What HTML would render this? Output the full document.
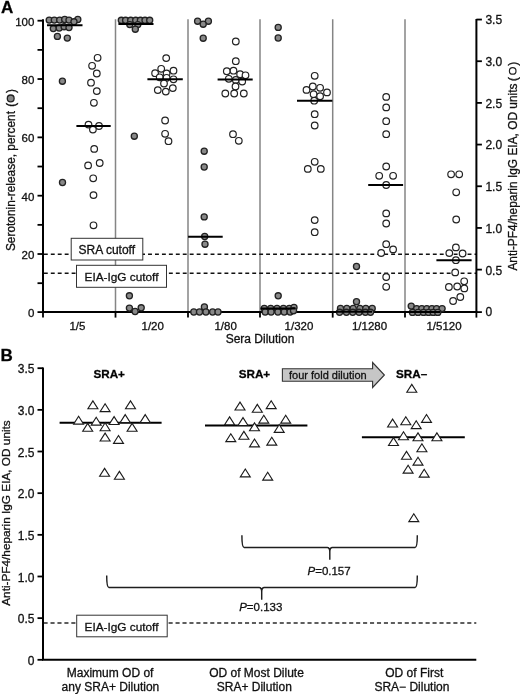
<!DOCTYPE html>
<html><head><meta charset="utf-8"><style>
html,body{margin:0;padding:0;background:#fff;}
svg{display:block;font-family:"Liberation Sans", sans-serif;will-change:transform;}
text{stroke:#111;stroke-width:0.3px;}
</style></head><body>
<svg width="520" height="694" viewBox="0 0 520 694">
<rect width="520" height="694" fill="#fff"/>
<line x1="115.5" y1="19.3" x2="115.5" y2="312.1" stroke="#858585" stroke-width="1.5"/>
<line x1="188.0" y1="19.3" x2="188.0" y2="312.1" stroke="#858585" stroke-width="1.5"/>
<line x1="260.0" y1="19.3" x2="260.0" y2="312.1" stroke="#858585" stroke-width="1.5"/>
<line x1="332.7" y1="19.3" x2="332.7" y2="312.1" stroke="#858585" stroke-width="1.5"/>
<line x1="405.0" y1="19.3" x2="405.0" y2="312.1" stroke="#858585" stroke-width="1.5"/>
<line x1="43.0" y1="254.3" x2="476.4" y2="254.3" stroke="#111" stroke-width="1.5" stroke-dasharray="3.9 3.046" stroke-dashoffset="6.09"/>
<line x1="43.0" y1="273.2" x2="476.4" y2="273.2" stroke="#111" stroke-width="1.5" stroke-dasharray="3.9 3.046" stroke-dashoffset="6.09"/>
<rect x="71.2" y="238.3" width="71.6" height="21.7" fill="#fff" stroke="#333" stroke-width="1"/>
<text x="106.8" y="253.8" font-size="12" text-anchor="middle" fill="#111">SRA cutoff</text>
<rect x="76.5" y="265.3" width="90" height="22" fill="#fff" stroke="#333" stroke-width="1"/>
<text x="121.5" y="280.6" font-size="11.8" text-anchor="middle" fill="#111">EIA-IgG cutoff</text>
<line x1="43.0" y1="19.3" x2="43.0" y2="312.1" stroke="#000" stroke-width="2"/>
<line x1="476.4" y1="19.0" x2="476.4" y2="312.1" stroke="#000" stroke-width="2"/>
<line x1="42.0" y1="312.1" x2="477.4" y2="312.1" stroke="#000" stroke-width="2"/>
<line x1="37.5" y1="312.10" x2="43.0" y2="312.10" stroke="#000" stroke-width="1.8"/>
<text x="34.4" y="317.20" font-size="11.5" text-anchor="end" fill="#111">0</text>
<line x1="37.5" y1="283.19" x2="43.0" y2="283.19" stroke="#000" stroke-width="1.8"/>
<line x1="37.5" y1="254.02" x2="43.0" y2="254.02" stroke="#000" stroke-width="1.8"/>
<text x="34.4" y="259.12" font-size="11.5" text-anchor="end" fill="#111">20</text>
<line x1="37.5" y1="224.86" x2="43.0" y2="224.86" stroke="#000" stroke-width="1.8"/>
<line x1="37.5" y1="195.69" x2="43.0" y2="195.69" stroke="#000" stroke-width="1.8"/>
<text x="34.4" y="200.79" font-size="11.5" text-anchor="end" fill="#111">40</text>
<line x1="37.5" y1="166.53" x2="43.0" y2="166.53" stroke="#000" stroke-width="1.8"/>
<line x1="37.5" y1="137.36" x2="43.0" y2="137.36" stroke="#000" stroke-width="1.8"/>
<text x="34.4" y="142.46" font-size="11.5" text-anchor="end" fill="#111">60</text>
<line x1="37.5" y1="108.20" x2="43.0" y2="108.20" stroke="#000" stroke-width="1.8"/>
<line x1="37.5" y1="79.03" x2="43.0" y2="79.03" stroke="#000" stroke-width="1.8"/>
<text x="34.4" y="84.13" font-size="11.5" text-anchor="end" fill="#111">80</text>
<line x1="37.5" y1="49.87" x2="43.0" y2="49.87" stroke="#000" stroke-width="1.8"/>
<line x1="37.5" y1="20.70" x2="43.0" y2="20.70" stroke="#000" stroke-width="1.8"/>
<text x="34.4" y="25.80" font-size="11.5" text-anchor="end" fill="#111">100</text>
<line x1="476.4" y1="312.10" x2="481.9" y2="312.10" stroke="#000" stroke-width="1.8"/>
<text x="485.4" y="316.20" font-size="12" fill="#111">0</text>
<line x1="476.4" y1="269.62" x2="481.9" y2="269.62" stroke="#000" stroke-width="1.8"/>
<text x="485.4" y="274.52" font-size="12" fill="#111">0.5</text>
<line x1="476.4" y1="227.94" x2="481.9" y2="227.94" stroke="#000" stroke-width="1.8"/>
<text x="485.4" y="232.84" font-size="12" fill="#111">1.0</text>
<line x1="476.4" y1="186.26" x2="481.9" y2="186.26" stroke="#000" stroke-width="1.8"/>
<text x="485.4" y="191.16" font-size="12" fill="#111">1.5</text>
<line x1="476.4" y1="144.58" x2="481.9" y2="144.58" stroke="#000" stroke-width="1.8"/>
<text x="485.4" y="149.48" font-size="12" fill="#111">2.0</text>
<line x1="476.4" y1="102.90" x2="481.9" y2="102.90" stroke="#000" stroke-width="1.8"/>
<text x="485.4" y="107.80" font-size="12" fill="#111">2.5</text>
<line x1="476.4" y1="61.22" x2="481.9" y2="61.22" stroke="#000" stroke-width="1.8"/>
<text x="485.4" y="66.12" font-size="12" fill="#111">3.0</text>
<line x1="476.4" y1="19.54" x2="481.9" y2="19.54" stroke="#000" stroke-width="1.8"/>
<text x="485.4" y="24.44" font-size="12" fill="#111">3.5</text>
<line x1="43.0" y1="312.1" x2="43.0" y2="317.6" stroke="#000" stroke-width="1.8"/>
<line x1="115.5" y1="312.1" x2="115.5" y2="317.6" stroke="#000" stroke-width="1.8"/>
<line x1="188.0" y1="312.1" x2="188.0" y2="317.6" stroke="#000" stroke-width="1.8"/>
<line x1="260.0" y1="312.1" x2="260.0" y2="317.6" stroke="#000" stroke-width="1.8"/>
<line x1="332.7" y1="312.1" x2="332.7" y2="317.6" stroke="#000" stroke-width="1.8"/>
<line x1="405.0" y1="312.1" x2="405.0" y2="317.6" stroke="#000" stroke-width="1.8"/>
<line x1="476.4" y1="312.1" x2="476.4" y2="317.6" stroke="#000" stroke-width="1.8"/>
<circle cx="97.6" cy="57.8" r="3.3" fill="#fff" stroke="#222" stroke-width="1.2"/>
<circle cx="92.1" cy="65.8" r="3.3" fill="#fff" stroke="#222" stroke-width="1.2"/>
<circle cx="96.8" cy="73.5" r="3.3" fill="#fff" stroke="#222" stroke-width="1.2"/>
<circle cx="91" cy="82.7" r="3.3" fill="#fff" stroke="#222" stroke-width="1.2"/>
<circle cx="96.8" cy="91.1" r="3.3" fill="#fff" stroke="#222" stroke-width="1.2"/>
<circle cx="93.9" cy="102.8" r="3.3" fill="#fff" stroke="#222" stroke-width="1.2"/>
<circle cx="88.5" cy="124.6" r="3.3" fill="#fff" stroke="#222" stroke-width="1.2"/>
<circle cx="99" cy="126" r="3.3" fill="#fff" stroke="#222" stroke-width="1.2"/>
<circle cx="92.9" cy="129.6" r="3.3" fill="#fff" stroke="#222" stroke-width="1.2"/>
<circle cx="94.2" cy="148.9" r="3.3" fill="#fff" stroke="#222" stroke-width="1.2"/>
<circle cx="99.7" cy="163" r="3.3" fill="#fff" stroke="#222" stroke-width="1.2"/>
<circle cx="88.1" cy="165.4" r="3.3" fill="#fff" stroke="#222" stroke-width="1.2"/>
<circle cx="93.2" cy="178.3" r="3.3" fill="#fff" stroke="#222" stroke-width="1.2"/>
<circle cx="93.5" cy="195.1" r="3.3" fill="#fff" stroke="#222" stroke-width="1.2"/>
<circle cx="93.5" cy="225.3" r="3.3" fill="#fff" stroke="#222" stroke-width="1.2"/>
<circle cx="166.2" cy="58.1" r="3.3" fill="#fff" stroke="#222" stroke-width="1.2"/>
<circle cx="161.2" cy="68.8" r="3.3" fill="#fff" stroke="#222" stroke-width="1.2"/>
<circle cx="155.1" cy="73.2" r="3.3" fill="#fff" stroke="#222" stroke-width="1.2"/>
<circle cx="166.6" cy="73.5" r="3.3" fill="#fff" stroke="#222" stroke-width="1.2"/>
<circle cx="173.5" cy="70.7" r="3.3" fill="#fff" stroke="#222" stroke-width="1.2"/>
<circle cx="159.7" cy="77.3" r="3.3" fill="#fff" stroke="#222" stroke-width="1.2"/>
<circle cx="166.6" cy="77.8" r="3.3" fill="#fff" stroke="#222" stroke-width="1.2"/>
<circle cx="173.5" cy="79.3" r="3.3" fill="#fff" stroke="#222" stroke-width="1.2"/>
<circle cx="164" cy="83.5" r="3.3" fill="#fff" stroke="#222" stroke-width="1.2"/>
<circle cx="157.8" cy="90.1" r="3.3" fill="#fff" stroke="#222" stroke-width="1.2"/>
<circle cx="165.8" cy="91.6" r="3.3" fill="#fff" stroke="#222" stroke-width="1.2"/>
<circle cx="172.8" cy="88.1" r="3.3" fill="#fff" stroke="#222" stroke-width="1.2"/>
<circle cx="165.1" cy="120.5" r="3.3" fill="#fff" stroke="#222" stroke-width="1.2"/>
<circle cx="165.1" cy="133.8" r="3.3" fill="#fff" stroke="#222" stroke-width="1.2"/>
<circle cx="168.5" cy="141.2" r="3.3" fill="#fff" stroke="#222" stroke-width="1.2"/>
<circle cx="235.8" cy="41.5" r="3.3" fill="#fff" stroke="#222" stroke-width="1.2"/>
<circle cx="235.8" cy="61.2" r="3.3" fill="#fff" stroke="#222" stroke-width="1.2"/>
<circle cx="226.8" cy="71.2" r="3.3" fill="#fff" stroke="#222" stroke-width="1.2"/>
<circle cx="233.5" cy="70.7" r="3.3" fill="#fff" stroke="#222" stroke-width="1.2"/>
<circle cx="240.1" cy="74.2" r="3.3" fill="#fff" stroke="#222" stroke-width="1.2"/>
<circle cx="245.5" cy="75.3" r="3.3" fill="#fff" stroke="#222" stroke-width="1.2"/>
<circle cx="228.8" cy="78.8" r="3.3" fill="#fff" stroke="#222" stroke-width="1.2"/>
<circle cx="235.8" cy="79.9" r="3.3" fill="#fff" stroke="#222" stroke-width="1.2"/>
<circle cx="242.2" cy="81.5" r="3.3" fill="#fff" stroke="#222" stroke-width="1.2"/>
<circle cx="235.5" cy="86.5" r="3.3" fill="#fff" stroke="#222" stroke-width="1.2"/>
<circle cx="225.3" cy="93.5" r="3.3" fill="#fff" stroke="#222" stroke-width="1.2"/>
<circle cx="234.2" cy="93.5" r="3.3" fill="#fff" stroke="#222" stroke-width="1.2"/>
<circle cx="243.8" cy="93.5" r="3.3" fill="#fff" stroke="#222" stroke-width="1.2"/>
<circle cx="233" cy="134.2" r="3.3" fill="#fff" stroke="#222" stroke-width="1.2"/>
<circle cx="238.8" cy="140.8" r="3.3" fill="#fff" stroke="#222" stroke-width="1.2"/>
<circle cx="314.7" cy="75.8" r="3.3" fill="#fff" stroke="#222" stroke-width="1.2"/>
<circle cx="306.5" cy="89.9" r="3.3" fill="#fff" stroke="#222" stroke-width="1.2"/>
<circle cx="312.8" cy="86.5" r="3.3" fill="#fff" stroke="#222" stroke-width="1.2"/>
<circle cx="320.1" cy="87.8" r="3.3" fill="#fff" stroke="#222" stroke-width="1.2"/>
<circle cx="327" cy="92.4" r="3.3" fill="#fff" stroke="#222" stroke-width="1.2"/>
<circle cx="313.6" cy="94.2" r="3.3" fill="#fff" stroke="#222" stroke-width="1.2"/>
<circle cx="320.1" cy="96.2" r="3.3" fill="#fff" stroke="#222" stroke-width="1.2"/>
<circle cx="314.2" cy="100.7" r="3.3" fill="#fff" stroke="#222" stroke-width="1.2"/>
<circle cx="314.7" cy="114.2" r="3.3" fill="#fff" stroke="#222" stroke-width="1.2"/>
<circle cx="314.7" cy="125.5" r="3.3" fill="#fff" stroke="#222" stroke-width="1.2"/>
<circle cx="314.7" cy="161.8" r="3.3" fill="#fff" stroke="#222" stroke-width="1.2"/>
<circle cx="307.8" cy="168.9" r="3.3" fill="#fff" stroke="#222" stroke-width="1.2"/>
<circle cx="320.8" cy="168.9" r="3.3" fill="#fff" stroke="#222" stroke-width="1.2"/>
<circle cx="314.7" cy="220.1" r="3.3" fill="#fff" stroke="#222" stroke-width="1.2"/>
<circle cx="314.7" cy="232.2" r="3.3" fill="#fff" stroke="#222" stroke-width="1.2"/>
<circle cx="386.2" cy="96.9" r="3.3" fill="#fff" stroke="#222" stroke-width="1.2"/>
<circle cx="386.2" cy="107.4" r="3.3" fill="#fff" stroke="#222" stroke-width="1.2"/>
<circle cx="386.2" cy="121.2" r="3.3" fill="#fff" stroke="#222" stroke-width="1.2"/>
<circle cx="386.2" cy="134.2" r="3.3" fill="#fff" stroke="#222" stroke-width="1.2"/>
<circle cx="386.2" cy="166.5" r="3.3" fill="#fff" stroke="#222" stroke-width="1.2"/>
<circle cx="379.2" cy="175.8" r="3.3" fill="#fff" stroke="#222" stroke-width="1.2"/>
<circle cx="393.1" cy="175.8" r="3.3" fill="#fff" stroke="#222" stroke-width="1.2"/>
<circle cx="386.2" cy="185" r="3.3" fill="#fff" stroke="#222" stroke-width="1.2"/>
<circle cx="386.2" cy="213.4" r="3.3" fill="#fff" stroke="#222" stroke-width="1.2"/>
<circle cx="386.2" cy="223.5" r="3.3" fill="#fff" stroke="#222" stroke-width="1.2"/>
<circle cx="386.2" cy="244.2" r="3.3" fill="#fff" stroke="#222" stroke-width="1.2"/>
<circle cx="393.1" cy="249.4" r="3.3" fill="#fff" stroke="#222" stroke-width="1.2"/>
<circle cx="381.2" cy="253" r="3.3" fill="#fff" stroke="#222" stroke-width="1.2"/>
<circle cx="386.2" cy="277" r="3.3" fill="#fff" stroke="#222" stroke-width="1.2"/>
<circle cx="386.2" cy="286.8" r="3.3" fill="#fff" stroke="#222" stroke-width="1.2"/>
<circle cx="451.1" cy="174.3" r="3.3" fill="#fff" stroke="#222" stroke-width="1.2"/>
<circle cx="459.2" cy="174.3" r="3.3" fill="#fff" stroke="#222" stroke-width="1.2"/>
<circle cx="456.2" cy="192.3" r="3.3" fill="#fff" stroke="#222" stroke-width="1.2"/>
<circle cx="456.2" cy="219.5" r="3.3" fill="#fff" stroke="#222" stroke-width="1.2"/>
<circle cx="455.9" cy="247.4" r="3.3" fill="#fff" stroke="#222" stroke-width="1.2"/>
<circle cx="449.3" cy="253.1" r="3.3" fill="#fff" stroke="#222" stroke-width="1.2"/>
<circle cx="462.6" cy="253.5" r="3.3" fill="#fff" stroke="#222" stroke-width="1.2"/>
<circle cx="455.9" cy="260.2" r="3.3" fill="#fff" stroke="#222" stroke-width="1.2"/>
<circle cx="455.2" cy="272.4" r="3.3" fill="#fff" stroke="#222" stroke-width="1.2"/>
<circle cx="464.2" cy="281.3" r="3.3" fill="#fff" stroke="#222" stroke-width="1.2"/>
<circle cx="448.9" cy="287" r="3.3" fill="#fff" stroke="#222" stroke-width="1.2"/>
<circle cx="457.2" cy="286.5" r="3.3" fill="#fff" stroke="#222" stroke-width="1.2"/>
<circle cx="464.3" cy="288.4" r="3.3" fill="#fff" stroke="#222" stroke-width="1.2"/>
<circle cx="460.3" cy="297" r="3.3" fill="#fff" stroke="#222" stroke-width="1.2"/>
<circle cx="453.1" cy="301" r="3.3" fill="#fff" stroke="#222" stroke-width="1.2"/>
<circle cx="49.2" cy="20.1" r="3.05" fill="#888" stroke="#222" stroke-width="1.3"/>
<circle cx="54.3" cy="20.1" r="3.05" fill="#888" stroke="#222" stroke-width="1.3"/>
<circle cx="59.7" cy="20.1" r="3.05" fill="#888" stroke="#222" stroke-width="1.3"/>
<circle cx="64.7" cy="19.5" r="3.05" fill="#888" stroke="#222" stroke-width="1.3"/>
<circle cx="69" cy="20.1" r="3.05" fill="#888" stroke="#222" stroke-width="1.3"/>
<circle cx="77.8" cy="19.5" r="3.05" fill="#888" stroke="#222" stroke-width="1.3"/>
<circle cx="74" cy="21.8" r="3.05" fill="#888" stroke="#222" stroke-width="1.3"/>
<circle cx="53.3" cy="28.6" r="3.05" fill="#888" stroke="#222" stroke-width="1.3"/>
<circle cx="59.2" cy="28" r="3.05" fill="#888" stroke="#222" stroke-width="1.3"/>
<circle cx="64.1" cy="26.7" r="3.05" fill="#888" stroke="#222" stroke-width="1.3"/>
<circle cx="69" cy="27.5" r="3.05" fill="#888" stroke="#222" stroke-width="1.3"/>
<circle cx="57.4" cy="36.4" r="3.05" fill="#888" stroke="#222" stroke-width="1.3"/>
<circle cx="67.3" cy="38.1" r="3.05" fill="#888" stroke="#222" stroke-width="1.3"/>
<circle cx="62.4" cy="81.2" r="3.05" fill="#888" stroke="#222" stroke-width="1.3"/>
<circle cx="62.5" cy="182.5" r="3.05" fill="#888" stroke="#222" stroke-width="1.3"/>
<circle cx="121.3" cy="20.3" r="3.05" fill="#888" stroke="#222" stroke-width="1.3"/>
<circle cx="125.6" cy="20.3" r="3.05" fill="#888" stroke="#222" stroke-width="1.3"/>
<circle cx="130.7" cy="20.3" r="3.05" fill="#888" stroke="#222" stroke-width="1.3"/>
<circle cx="135.7" cy="20.3" r="3.05" fill="#888" stroke="#222" stroke-width="1.3"/>
<circle cx="140.4" cy="20.3" r="3.05" fill="#888" stroke="#222" stroke-width="1.3"/>
<circle cx="145" cy="20.3" r="3.05" fill="#888" stroke="#222" stroke-width="1.3"/>
<circle cx="149.7" cy="20.3" r="3.05" fill="#888" stroke="#222" stroke-width="1.3"/>
<circle cx="129.8" cy="24.6" r="3.05" fill="#888" stroke="#222" stroke-width="1.3"/>
<circle cx="137.8" cy="24.6" r="3.05" fill="#888" stroke="#222" stroke-width="1.3"/>
<circle cx="135.3" cy="29.2" r="3.05" fill="#888" stroke="#222" stroke-width="1.3"/>
<circle cx="134.3" cy="136.2" r="3.05" fill="#888" stroke="#222" stroke-width="1.3"/>
<circle cx="129.4" cy="295.8" r="3.05" fill="#888" stroke="#222" stroke-width="1.3"/>
<circle cx="129.4" cy="308.1" r="3.05" fill="#888" stroke="#222" stroke-width="1.3"/>
<circle cx="135.1" cy="311.5" r="3.05" fill="#888" stroke="#222" stroke-width="1.3"/>
<circle cx="141.2" cy="307.8" r="3.05" fill="#888" stroke="#222" stroke-width="1.3"/>
<circle cx="197.6" cy="21.2" r="3.05" fill="#888" stroke="#222" stroke-width="1.3"/>
<circle cx="208.4" cy="21.2" r="3.05" fill="#888" stroke="#222" stroke-width="1.3"/>
<circle cx="203.2" cy="24.2" r="3.05" fill="#888" stroke="#222" stroke-width="1.3"/>
<circle cx="203.2" cy="38.2" r="3.05" fill="#888" stroke="#222" stroke-width="1.3"/>
<circle cx="204.2" cy="151.2" r="3.05" fill="#888" stroke="#222" stroke-width="1.3"/>
<circle cx="204.2" cy="167" r="3.05" fill="#888" stroke="#222" stroke-width="1.3"/>
<circle cx="204.2" cy="216.9" r="3.05" fill="#888" stroke="#222" stroke-width="1.3"/>
<circle cx="204.7" cy="236.5" r="3.05" fill="#888" stroke="#222" stroke-width="1.3"/>
<circle cx="205" cy="244.2" r="3.05" fill="#888" stroke="#222" stroke-width="1.3"/>
<circle cx="204.4" cy="306.9" r="3.05" fill="#888" stroke="#222" stroke-width="1.3"/>
<circle cx="193.8" cy="312" r="3.05" fill="#888" stroke="#222" stroke-width="1.3"/>
<circle cx="199.5" cy="312" r="3.05" fill="#888" stroke="#222" stroke-width="1.3"/>
<circle cx="205.9" cy="312" r="3.05" fill="#888" stroke="#222" stroke-width="1.3"/>
<circle cx="212.6" cy="312" r="3.05" fill="#888" stroke="#222" stroke-width="1.3"/>
<circle cx="218" cy="312" r="3.05" fill="#888" stroke="#222" stroke-width="1.3"/>
<circle cx="278.2" cy="27.4" r="3.05" fill="#888" stroke="#222" stroke-width="1.3"/>
<circle cx="278.2" cy="38" r="3.05" fill="#888" stroke="#222" stroke-width="1.3"/>
<circle cx="278.2" cy="295.8" r="3.05" fill="#888" stroke="#222" stroke-width="1.3"/>
<circle cx="264.3" cy="308.4" r="3.05" fill="#888" stroke="#222" stroke-width="1.3"/>
<circle cx="270.7" cy="308.4" r="3.05" fill="#888" stroke="#222" stroke-width="1.3"/>
<circle cx="277" cy="308.4" r="3.05" fill="#888" stroke="#222" stroke-width="1.3"/>
<circle cx="283.4" cy="308.4" r="3.05" fill="#888" stroke="#222" stroke-width="1.3"/>
<circle cx="289.3" cy="308.4" r="3.05" fill="#888" stroke="#222" stroke-width="1.3"/>
<circle cx="294" cy="307.5" r="3.05" fill="#888" stroke="#222" stroke-width="1.3"/>
<circle cx="265.2" cy="312" r="3.05" fill="#888" stroke="#222" stroke-width="1.3"/>
<circle cx="271.1" cy="312" r="3.05" fill="#888" stroke="#222" stroke-width="1.3"/>
<circle cx="277.9" cy="312" r="3.05" fill="#888" stroke="#222" stroke-width="1.3"/>
<circle cx="284.2" cy="312" r="3.05" fill="#888" stroke="#222" stroke-width="1.3"/>
<circle cx="290.1" cy="312" r="3.05" fill="#888" stroke="#222" stroke-width="1.3"/>
<circle cx="293.5" cy="310.7" r="3.05" fill="#888" stroke="#222" stroke-width="1.3"/>
<circle cx="356.5" cy="266.5" r="3.05" fill="#888" stroke="#222" stroke-width="1.3"/>
<circle cx="356.5" cy="301.7" r="3.05" fill="#888" stroke="#222" stroke-width="1.3"/>
<circle cx="340.5" cy="308.5" r="3.05" fill="#888" stroke="#222" stroke-width="1.3"/>
<circle cx="346.8" cy="308.5" r="3.05" fill="#888" stroke="#222" stroke-width="1.3"/>
<circle cx="353.2" cy="308.5" r="3.05" fill="#888" stroke="#222" stroke-width="1.3"/>
<circle cx="359.9" cy="308.5" r="3.05" fill="#888" stroke="#222" stroke-width="1.3"/>
<circle cx="365.8" cy="308.5" r="3.05" fill="#888" stroke="#222" stroke-width="1.3"/>
<circle cx="372.2" cy="308.5" r="3.05" fill="#888" stroke="#222" stroke-width="1.3"/>
<circle cx="339.6" cy="312.3" r="3.05" fill="#888" stroke="#222" stroke-width="1.3"/>
<circle cx="346.4" cy="312.3" r="3.05" fill="#888" stroke="#222" stroke-width="1.3"/>
<circle cx="352.7" cy="312.3" r="3.05" fill="#888" stroke="#222" stroke-width="1.3"/>
<circle cx="359.1" cy="312.3" r="3.05" fill="#888" stroke="#222" stroke-width="1.3"/>
<circle cx="365.4" cy="312.3" r="3.05" fill="#888" stroke="#222" stroke-width="1.3"/>
<circle cx="370.5" cy="312.3" r="3.05" fill="#888" stroke="#222" stroke-width="1.3"/>
<circle cx="411.2" cy="306.1" r="3.05" fill="#888" stroke="#222" stroke-width="1.3"/>
<circle cx="416.7" cy="308.6" r="3.05" fill="#888" stroke="#222" stroke-width="1.3"/>
<circle cx="421.8" cy="308.6" r="3.05" fill="#888" stroke="#222" stroke-width="1.3"/>
<circle cx="426.8" cy="308.6" r="3.05" fill="#888" stroke="#222" stroke-width="1.3"/>
<circle cx="431.9" cy="308.6" r="3.05" fill="#888" stroke="#222" stroke-width="1.3"/>
<circle cx="436.6" cy="308.6" r="3.05" fill="#888" stroke="#222" stroke-width="1.3"/>
<circle cx="442.1" cy="308.6" r="3.05" fill="#888" stroke="#222" stroke-width="1.3"/>
<circle cx="412.5" cy="312.4" r="3.05" fill="#888" stroke="#222" stroke-width="1.3"/>
<circle cx="418" cy="312.4" r="3.05" fill="#888" stroke="#222" stroke-width="1.3"/>
<circle cx="423.5" cy="312.4" r="3.05" fill="#888" stroke="#222" stroke-width="1.3"/>
<circle cx="428.5" cy="312.4" r="3.05" fill="#888" stroke="#222" stroke-width="1.3"/>
<circle cx="433.2" cy="312.4" r="3.05" fill="#888" stroke="#222" stroke-width="1.3"/>
<circle cx="437.8" cy="312.4" r="3.05" fill="#888" stroke="#222" stroke-width="1.3"/>
<line x1="47" y1="25.2" x2="82.5" y2="25.2" stroke="#000" stroke-width="2"/>
<line x1="76.4" y1="126" x2="110.7" y2="126" stroke="#000" stroke-width="2"/>
<line x1="118.4" y1="24" x2="153.5" y2="24" stroke="#000" stroke-width="2"/>
<line x1="147.4" y1="79.3" x2="182.8" y2="79.3" stroke="#000" stroke-width="2"/>
<line x1="188.1" y1="236.8" x2="222.7" y2="236.8" stroke="#000" stroke-width="2"/>
<line x1="217.6" y1="79.6" x2="252.7" y2="79.6" stroke="#000" stroke-width="2"/>
<line x1="260.5" y1="308.6" x2="295.2" y2="308.6" stroke="#000" stroke-width="2"/>
<line x1="297" y1="100.7" x2="332.4" y2="100.7" stroke="#000" stroke-width="2"/>
<line x1="335.8" y1="311.8" x2="372" y2="311.8" stroke="#000" stroke-width="2"/>
<line x1="368.2" y1="185" x2="403.1" y2="185" stroke="#000" stroke-width="2"/>
<line x1="406" y1="312" x2="440" y2="312" stroke="#000" stroke-width="2"/>
<line x1="436.4" y1="260.2" x2="471.6" y2="260.2" stroke="#000" stroke-width="2"/>
<text x="77.4" y="329.8" font-size="11.5" text-anchor="middle" fill="#111">1/5</text>
<text x="152.7" y="329.8" font-size="11.5" text-anchor="middle" fill="#111">1/20</text>
<text x="225.6" y="329.8" font-size="11.5" text-anchor="middle" fill="#111">1/80</text>
<text x="299.0" y="329.8" font-size="11.5" text-anchor="middle" fill="#111">1/320</text>
<text x="369.5" y="329.8" font-size="11.5" text-anchor="middle" fill="#111">1/1280</text>
<text x="444" y="329.8" font-size="11.5" text-anchor="middle" fill="#111">1/5120</text>
<text x="260" y="343.3" font-size="12" text-anchor="middle" fill="#111">Sera Dilution</text>
<text transform="translate(15,251.1) rotate(-90)" font-size="11.9" fill="#111">Serotonin-release, percent <tspan dx="0.8">(</tspan><tspan dx="9.8">)</tspan></text>
<circle cx="10.7" cy="98.4" r="3.4" fill="#888" stroke="#222" stroke-width="1.3"/>
<text transform="translate(516.5,270.6) rotate(-90)" font-size="11.9" fill="#111">Anti-PF4/heparin IgG EIA, OD units <tspan dx="-0.7">(</tspan><tspan dx="11.2">)</tspan></text>
<circle cx="512.7" cy="70.9" r="3.3" fill="#fff" stroke="#222" stroke-width="1.2"/>
<text x="1" y="13.3" font-size="17" font-weight="bold" fill="#000">A</text>
<text x="0.4" y="361.3" font-size="17" font-weight="bold" fill="#000">B</text>
<line x1="43.0" y1="622.9" x2="476.3" y2="622.9" stroke="#2a2a2a" stroke-width="1.5" stroke-dasharray="4.1 2.846" stroke-dashoffset="6.4"/>
<rect x="76.7" y="615.2" width="90.5" height="21.6" fill="#fff" stroke="#333" stroke-width="1"/>
<text x="121.5" y="630.6" font-size="11.8" text-anchor="middle" fill="#111">EIA-IgG cutoff</text>
<line x1="59.6" y1="422.8" x2="161.6" y2="422.8" stroke="#000" stroke-width="2"/>
<line x1="205" y1="425.6" x2="307.4" y2="425.6" stroke="#000" stroke-width="2"/>
<line x1="361.9" y1="437.2" x2="464.8" y2="437.2" stroke="#000" stroke-width="2"/>
<path d="M92.90,400.90 L97.90,408.80 L87.90,408.80 Z" fill="#fff" stroke="#1a1a1a" stroke-width="1.1" stroke-linejoin="miter"/>
<path d="M105.10,403.70 L110.10,411.60 L100.10,411.60 Z" fill="#fff" stroke="#1a1a1a" stroke-width="1.1" stroke-linejoin="miter"/>
<path d="M130.50,400.90 L135.50,408.80 L125.50,408.80 Z" fill="#fff" stroke="#1a1a1a" stroke-width="1.1" stroke-linejoin="miter"/>
<path d="M78.60,416.20 L83.60,424.10 L73.60,424.10 Z" fill="#fff" stroke="#1a1a1a" stroke-width="1.1" stroke-linejoin="miter"/>
<path d="M96.20,417.20 L101.20,425.10 L91.20,425.10 Z" fill="#fff" stroke="#1a1a1a" stroke-width="1.1" stroke-linejoin="miter"/>
<path d="M114.10,416.60 L119.10,424.50 L109.10,424.50 Z" fill="#fff" stroke="#1a1a1a" stroke-width="1.1" stroke-linejoin="miter"/>
<path d="M125.20,414.60 L130.20,422.50 L120.20,422.50 Z" fill="#fff" stroke="#1a1a1a" stroke-width="1.1" stroke-linejoin="miter"/>
<path d="M145.20,414.60 L150.20,422.50 L140.20,422.50 Z" fill="#fff" stroke="#1a1a1a" stroke-width="1.1" stroke-linejoin="miter"/>
<path d="M87.70,423.40 L92.70,431.30 L82.70,431.30 Z" fill="#fff" stroke="#1a1a1a" stroke-width="1.1" stroke-linejoin="miter"/>
<path d="M105.10,422.80 L110.10,430.70 L100.10,430.70 Z" fill="#fff" stroke="#1a1a1a" stroke-width="1.1" stroke-linejoin="miter"/>
<path d="M132.10,423.40 L137.10,431.30 L127.10,431.30 Z" fill="#fff" stroke="#1a1a1a" stroke-width="1.1" stroke-linejoin="miter"/>
<path d="M105.10,433.10 L110.10,441.00 L100.10,441.00 Z" fill="#fff" stroke="#1a1a1a" stroke-width="1.1" stroke-linejoin="miter"/>
<path d="M118.50,435.50 L123.50,443.40 L113.50,443.40 Z" fill="#fff" stroke="#1a1a1a" stroke-width="1.1" stroke-linejoin="miter"/>
<path d="M104.60,468.40 L109.60,476.30 L99.60,476.30 Z" fill="#fff" stroke="#1a1a1a" stroke-width="1.1" stroke-linejoin="miter"/>
<path d="M119.40,471.40 L124.40,479.30 L114.40,479.30 Z" fill="#fff" stroke="#1a1a1a" stroke-width="1.1" stroke-linejoin="miter"/>
<path d="M240.00,402.10 L245.00,410.00 L235.00,410.00 Z" fill="#fff" stroke="#1a1a1a" stroke-width="1.1" stroke-linejoin="miter"/>
<path d="M257.30,404.40 L262.30,412.30 L252.30,412.30 Z" fill="#fff" stroke="#1a1a1a" stroke-width="1.1" stroke-linejoin="miter"/>
<path d="M271.20,400.70 L276.20,408.60 L266.20,408.60 Z" fill="#fff" stroke="#1a1a1a" stroke-width="1.1" stroke-linejoin="miter"/>
<path d="M229.60,416.90 L234.60,424.80 L224.60,424.80 Z" fill="#fff" stroke="#1a1a1a" stroke-width="1.1" stroke-linejoin="miter"/>
<path d="M243.00,417.60 L248.00,425.50 L238.00,425.50 Z" fill="#fff" stroke="#1a1a1a" stroke-width="1.1" stroke-linejoin="miter"/>
<path d="M263.80,415.20 L268.80,423.10 L258.80,423.10 Z" fill="#fff" stroke="#1a1a1a" stroke-width="1.1" stroke-linejoin="miter"/>
<path d="M285.70,415.20 L290.70,423.10 L280.70,423.10 Z" fill="#fff" stroke="#1a1a1a" stroke-width="1.1" stroke-linejoin="miter"/>
<path d="M254.50,422.90 L259.50,430.80 L249.50,430.80 Z" fill="#fff" stroke="#1a1a1a" stroke-width="1.1" stroke-linejoin="miter"/>
<path d="M279.20,424.50 L284.20,432.40 L274.20,432.40 Z" fill="#fff" stroke="#1a1a1a" stroke-width="1.1" stroke-linejoin="miter"/>
<path d="M230.80,433.70 L235.80,441.60 L225.80,441.60 Z" fill="#fff" stroke="#1a1a1a" stroke-width="1.1" stroke-linejoin="miter"/>
<path d="M243.90,431.40 L248.90,439.30 L238.90,439.30 Z" fill="#fff" stroke="#1a1a1a" stroke-width="1.1" stroke-linejoin="miter"/>
<path d="M254.50,439.00 L259.50,446.90 L249.50,446.90 Z" fill="#fff" stroke="#1a1a1a" stroke-width="1.1" stroke-linejoin="miter"/>
<path d="M271.80,437.20 L276.80,445.10 L266.80,445.10 Z" fill="#fff" stroke="#1a1a1a" stroke-width="1.1" stroke-linejoin="miter"/>
<path d="M245.30,469.00 L250.30,476.90 L240.30,476.90 Z" fill="#fff" stroke="#1a1a1a" stroke-width="1.1" stroke-linejoin="miter"/>
<path d="M267.70,472.20 L272.70,480.10 L262.70,480.10 Z" fill="#fff" stroke="#1a1a1a" stroke-width="1.1" stroke-linejoin="miter"/>
<path d="M411.80,384.40 L416.80,392.30 L406.80,392.30 Z" fill="#fff" stroke="#1a1a1a" stroke-width="1.1" stroke-linejoin="miter"/>
<path d="M392.60,419.10 L397.60,427.00 L387.60,427.00 Z" fill="#fff" stroke="#1a1a1a" stroke-width="1.1" stroke-linejoin="miter"/>
<path d="M405.80,416.80 L410.80,424.70 L400.80,424.70 Z" fill="#fff" stroke="#1a1a1a" stroke-width="1.1" stroke-linejoin="miter"/>
<path d="M416.20,420.70 L421.20,428.60 L411.20,428.60 Z" fill="#fff" stroke="#1a1a1a" stroke-width="1.1" stroke-linejoin="miter"/>
<path d="M426.50,414.50 L431.50,422.40 L421.50,422.40 Z" fill="#fff" stroke="#1a1a1a" stroke-width="1.1" stroke-linejoin="miter"/>
<path d="M403.50,431.80 L408.50,439.70 L398.50,439.70 Z" fill="#fff" stroke="#1a1a1a" stroke-width="1.1" stroke-linejoin="miter"/>
<path d="M418.00,432.90 L423.00,440.80 L413.00,440.80 Z" fill="#fff" stroke="#1a1a1a" stroke-width="1.1" stroke-linejoin="miter"/>
<path d="M436.90,432.90 L441.90,440.80 L431.90,440.80 Z" fill="#fff" stroke="#1a1a1a" stroke-width="1.1" stroke-linejoin="miter"/>
<path d="M393.50,437.60 L398.50,445.50 L388.50,445.50 Z" fill="#fff" stroke="#1a1a1a" stroke-width="1.1" stroke-linejoin="miter"/>
<path d="M421.90,443.80 L426.90,451.70 L416.90,451.70 Z" fill="#fff" stroke="#1a1a1a" stroke-width="1.1" stroke-linejoin="miter"/>
<path d="M406.50,451.40 L411.50,459.30 L401.50,459.30 Z" fill="#fff" stroke="#1a1a1a" stroke-width="1.1" stroke-linejoin="miter"/>
<path d="M418.00,457.20 L423.00,465.10 L413.00,465.10 Z" fill="#fff" stroke="#1a1a1a" stroke-width="1.1" stroke-linejoin="miter"/>
<path d="M408.10,465.20 L413.10,473.10 L403.10,473.10 Z" fill="#fff" stroke="#1a1a1a" stroke-width="1.1" stroke-linejoin="miter"/>
<path d="M424.20,469.20 L429.20,477.10 L419.20,477.10 Z" fill="#fff" stroke="#1a1a1a" stroke-width="1.1" stroke-linejoin="miter"/>
<path d="M413.80,513.70 L418.80,521.60 L408.80,521.60 Z" fill="#fff" stroke="#1a1a1a" stroke-width="1.1" stroke-linejoin="miter"/>
<line x1="43.0" y1="367.5" x2="43.0" y2="659.8" stroke="#000" stroke-width="2"/>
<line x1="42.0" y1="659.8" x2="476.3" y2="659.8" stroke="#000" stroke-width="2"/>
<line x1="37.5" y1="659.80" x2="43.0" y2="659.80" stroke="#000" stroke-width="1.8"/>
<text x="34.4" y="664.90" font-size="12" text-anchor="end" fill="#111">0</text>
<line x1="37.5" y1="618.14" x2="43.0" y2="618.14" stroke="#000" stroke-width="1.8"/>
<text x="34.4" y="623.24" font-size="12" text-anchor="end" fill="#111">0.5</text>
<line x1="37.5" y1="576.49" x2="43.0" y2="576.49" stroke="#000" stroke-width="1.8"/>
<text x="34.4" y="581.59" font-size="12" text-anchor="end" fill="#111">1.0</text>
<line x1="37.5" y1="534.83" x2="43.0" y2="534.83" stroke="#000" stroke-width="1.8"/>
<text x="34.4" y="539.93" font-size="12" text-anchor="end" fill="#111">1.5</text>
<line x1="37.5" y1="493.17" x2="43.0" y2="493.17" stroke="#000" stroke-width="1.8"/>
<text x="34.4" y="498.27" font-size="12" text-anchor="end" fill="#111">2.0</text>
<line x1="37.5" y1="451.51" x2="43.0" y2="451.51" stroke="#000" stroke-width="1.8"/>
<text x="34.4" y="456.61" font-size="12" text-anchor="end" fill="#111">2.5</text>
<line x1="37.5" y1="409.86" x2="43.0" y2="409.86" stroke="#000" stroke-width="1.8"/>
<text x="34.4" y="414.96" font-size="12" text-anchor="end" fill="#111">3.0</text>
<line x1="37.5" y1="368.20" x2="43.0" y2="368.20" stroke="#000" stroke-width="1.8"/>
<text x="34.4" y="373.30" font-size="12" text-anchor="end" fill="#111">3.5</text>
<text transform="translate(9.6,605.8) rotate(-90)" font-size="11.8" fill="#111">Anti-PF4/heparin IgG EIA, OD units</text>
<text x="109.2" y="378.4" font-size="11.7" font-weight="bold" text-anchor="middle" fill="#000">SRA+</text>
<text x="254.4" y="378.1" font-size="11.7" font-weight="bold" text-anchor="middle" fill="#000">SRA+</text>
<text x="411.6" y="378.0" font-size="11.7" font-weight="bold" text-anchor="middle" fill="#000">SRA–</text>
<path d="M282.4,368.8 L372.6,368.8 L372.6,362.5 L384.4,375 L372.6,387.5 L372.6,381.3 L282.4,381.3 Z" fill="#c6c6c6" stroke="#333" stroke-width="1.1" stroke-linejoin="miter"/>
<text x="289" y="378.6" font-size="11" fill="#111">four fold dilution</text>
<path d="M241.9,535.2 C241.9,542.4 242.5,547.4 244.1,547.4 L327.2,547.4 C328.6,547.4 329.8,548.9 329.8,551.9 L329.8,559.8 M329.8,551.9 C329.8,548.9 331.0,547.4 332.40000000000003,547.4 L415.1,547.4 C416.7,547.4 417.3,542.4 417.3,535.2" fill="none" stroke="#1e1e1e" stroke-width="1.45"/>
<path d="M106.7,575.4 C106.7,582.4 107.3,587.4 108.9,587.4 L259.09999999999997,587.4 C260.5,587.4 261.7,588.9 261.7,591.9 L261.7,599.8 M261.7,591.9 C261.7,588.9 262.9,587.4 264.3,587.4 L415.1,587.4 C416.7,587.4 417.3,582.4 417.3,575.4" fill="none" stroke="#1e1e1e" stroke-width="1.45"/>
<text x="307.5" y="575" font-size="11.5" fill="#111"><tspan font-style="italic">P</tspan>=0.157</text>
<text x="239.2" y="610.9" font-size="11.5" fill="#111"><tspan font-style="italic">P</tspan>=0.133</text>
<text x="110.1" y="676.8" font-size="12" text-anchor="middle" fill="#111">Maximum OD of</text>
<text x="110.4" y="690.8" font-size="12" text-anchor="middle" fill="#111">any SRA+ Dilution</text>
<text x="256.5" y="676.8" font-size="12" text-anchor="middle" fill="#111">OD of Most Dilute</text>
<text x="254.3" y="690.8" font-size="12" text-anchor="middle" fill="#111">SRA+ Dilution</text>
<text x="414.3" y="676.8" font-size="12" text-anchor="middle" fill="#111">OD of First</text>
<text x="411.9" y="690.8" font-size="12" text-anchor="middle" fill="#111">SRA− Dilution</text>
</svg>
</body></html>
